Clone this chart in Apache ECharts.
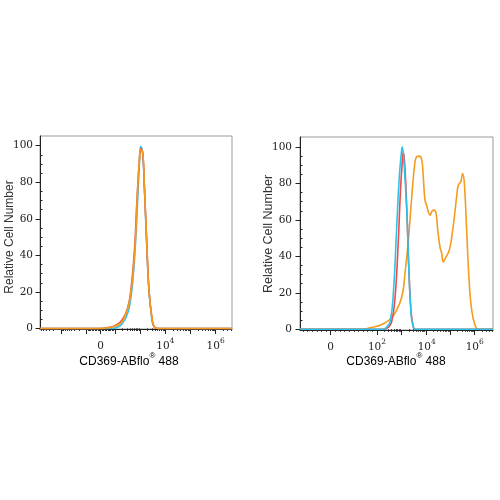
<!DOCTYPE html>
<html>
<head>
<meta charset="utf-8">
<script src="https://cdn.jsdelivr.net/npm/echarts@6/dist/echarts.min.js"></script>
<style>
  html, body { margin: 0; background: #fff; }
  #chart { width: 500px; height: 500px; }
</style>
</head>
<body>
<div id="chart"></div>
<script>
// x values are display channels (0-1024) of the biexponential axis, y = relative cell number
var leftCyan = [[0,0],[384,0],[416,0.8],[437,2.5],[459,6],[477,12],[493,24],[509,46],[522,73],[531,92],[537,99.5],[547,96],[556,79],[568,48],[581,21],[595,6.5],[608,1],[629,0],[1024,0]];
var leftRed = [[0,0],[320,0],[363,0.5],[405,1.8],[437,4.5],[467,11],[487,23],[505,45],[518,72],[530,92],[538,98.5],[548,96],[556,79.5],[569,48],[581,21],[596,6.5],[608,1],[629,0],[1024,0]];
var leftOrange = [[0,0],[320,0],[373,0.5],[418,2],[444,4.6],[471,12],[489,23],[507,45],[519,72],[530,92],[537,98],[548,96],[556,79.5],[569,48],[581,21],[596,6.5],[608,1],[629,0],[1024,0]];

var rightCyan = [[0,0],[434,0],[456,0.8],[478,4],[496,21],[513,56],[527,84],[540,99],[543,100],[552,91],[567,64],[578,31],[586,14],[593,5],[605,0.5],[616,0],[1024,0]];
var rightRed = [[0,0],[446,0],[467,1],[486,4],[504,17],[520,45],[533,76],[544,94],[548,97.4],[557,88],[568,62],[578,32],[589,10],[600,2],[610,0],[1024,0]];
var rightOrange = [[0,0],[340,0],[371,0.8],[407,1.6],[442,3],[478,5.5],[504,8.8],[540,17.7],[557,30.6],[575,49],[593,72.7],[607,89],[619,94.7],[633,95],[646,93],[654,83.7],[663,71],[672,68],[681,64.5],[690,62.6],[699,64.5],[707,65.4],[720,64.5],[731,54.4],[743,45],[752,41.6],[760,37],[775,39.7],[792,43.4],[805,50.7],[817,59.9],[831,72.7],[840,79],[853,81],[863,85.5],[872,80],[885,52.6],[897,27],[911,10.4],[929,2.2],[946,0],[1024,0]];

// tick labels and where they sit on each panel's display axis
var leftTickLabels = ['0', '10^4', '10^6'];
var leftTickPos = [323.7, 668.3, 937];
var rightTickLabels = ['0', '10^2', '10^4', '10^6'];
var rightTickPos = [162.9, 408.4, 672.3, 927];
var yTicks = [0, 20, 40, 60, 80, 100];
var yMinor = [5, 10, 15, 25, 30, 35, 45, 50, 55, 65, 70, 75, 85, 90, 95];

var COL_CYAN = '#2cc3ea';
var COL_RED = '#ef4a47';
var COL_ORANGE = '#f39c1f';
var NUM_FONT = 'DejaVu Serif';
var TXT_FONT = 'Liberation Sans';

// decade ticks of a biex axis: linear part near 0, log decades above 10^2, mirrored below 0
function axisTicks(zero, p100, dec) {
  var major = [zero], minor = [];
  var step = (p100 - zero) / 10;
  for (var k = 1; k < 10; k++) {
    minor.push(zero + k * step, zero - k * step);
  }
  for (var e = 2; e < 8; e++) {
    for (var m = 1; m < 10; m++) {
      var p = p100 + (e - 2) * dec + Math.log10(m) * dec;
      var q = 2 * zero - p;
      if (m === 1) { major.push(p, q); } else { minor.push(p, q); }
    }
  }
  var inside = function (v) { return v > 0.5 && v < 1023.5; };
  return { major: major.filter(inside), minor: minor.filter(inside) };
}

var leftT = axisTicks(leftTickPos[0], leftTickPos[1] - (leftTickPos[2] - leftTickPos[1]), (leftTickPos[2] - leftTickPos[1]) / 2);
var rightT = axisTicks(rightTickPos[0], rightTickPos[1], (rightTickPos[3] - rightTickPos[1]) / 4);

function fmtFor(pos, labels) {
  return function (v) {
    for (var i = 0; i < pos.length; i++) {
      if (Math.abs(pos[i] - v) < 0.5) {
        var parts = labels[i].split('^');
        return parts.length > 1 ? '{b|' + parts[0] + '}{s|' + parts[1] + '}' : '{b|' + parts[0] + '}';
      }
    }
    return '';
  };
}

var richNum = {
  b: { fontFamily: NUM_FONT, fontSize: 10.5, color: '#222', verticalAlign: 'bottom', lineHeight: 14 },
  s: { fontFamily: NUM_FONT, fontSize: 7.5, color: '#222', verticalAlign: 'top', lineHeight: 14 }
};

function xMajor(grid, pos, labels, ticks) {
  return {
    type: 'value', gridIndex: grid, min: 0, max: 1024, position: 'bottom',
    axisLine: { show: true, onZero: false, lineStyle: { color: '#222', width: 1 } },
    axisTick: { show: true, inside: false, length: 5, customValues: ticks, lineStyle: { color: '#222' } },
    axisLabel: { show: true, margin: 8.5, customValues: pos, formatter: fmtFor(pos, labels), rich: richNum },
    splitLine: { show: false }
  };
}
function xMinor(grid, ticks) {
  return {
    type: 'value', gridIndex: grid, min: 0, max: 1024, position: 'bottom',
    axisLine: { show: false },
    axisTick: { show: true, length: 2.5, customValues: ticks, lineStyle: { color: '#222' } },
    axisLabel: { show: false },
    splitLine: { show: false }
  };
}
function yMajor(grid, lo, hi, margin) {
  return {
    type: 'value', gridIndex: grid, min: lo, max: hi,
    axisLine: { show: true, onZero: false, lineStyle: { color: '#222', width: 1 } },
    axisTick: { show: true, length: 4.5, customValues: yTicks, lineStyle: { color: '#222' } },
    axisLabel: { show: true, margin: margin, customValues: yTicks, fontFamily: NUM_FONT, fontSize: 10.5, color: '#222' },
    splitLine: { show: false }
  };
}
function yMinorAxis(grid, lo, hi) {
  return {
    type: 'value', gridIndex: grid, min: lo, max: hi,
    axisLine: { show: false },
    axisTick: { show: true, length: 2.5, customValues: yMinor, lineStyle: { color: '#222' } },
    axisLabel: { show: false },
    splitLine: { show: false }
  };
}

function line(data, color, xi, yi, z) {
  return {
    type: 'line', data: data, xAxisIndex: xi, yAxisIndex: yi, z: z,
    smooth: 0.45, symbol: 'none', silent: true,
    lineStyle: { color: color, width: 1.6 }
  };
}

var richTitle = {
  a: { fontFamily: TXT_FONT, fontSize: 12, color: '#333', verticalAlign: 'bottom', lineHeight: 16 },
  r: { fontFamily: TXT_FONT, fontSize: 8, color: '#333', verticalAlign: 'top', lineHeight: 16 }
};
var xTitle = '{a|CD369-ABflo}{r|®}{a| 488}';
var yTitle = 'Relative Cell Number';

var chart = echarts.init(document.getElementById('chart'), null, { renderer: 'canvas' });
chart.setOption({
  backgroundColor: '#fff',
  animation: false,
  grid: [
    { left: 40, top: 136, width: 192, height: 193, show: true, borderColor: '#999', borderWidth: 1, backgroundColor: 'transparent' },
    { left: 300, top: 137, width: 193, height: 193, show: true, borderColor: '#999', borderWidth: 1, backgroundColor: 'transparent' }
  ],
  xAxis: [
    xMajor(0, leftTickPos, leftTickLabels, leftT.major),
    xMinor(0, leftT.minor),
    xMajor(1, rightTickPos, rightTickLabels, rightT.major),
    xMinor(1, rightT.minor)
  ],
  yAxis: [
    yMajor(0, -0.3, 105.3, 7),
    yMinorAxis(0, -0.3, 105.3),
    yMajor(1, -0.4, 105.5, 8),
    yMinorAxis(1, -0.4, 105.5)
  ],
  series: [
    line(leftCyan, COL_CYAN, 0, 0, 3),
    line(leftRed, COL_RED, 0, 0, 4),
    line(leftOrange, COL_ORANGE, 0, 0, 5),
    line(rightOrange, COL_ORANGE, 2, 2, 3),
    line(rightRed, COL_RED, 2, 2, 4),
    line(rightCyan, COL_CYAN, 2, 2, 5)
  ],
  graphic: [
    { type: 'text', x: 129, y: 360, style: { text: xTitle, rich: richTitle, align: 'center', verticalAlign: 'middle' } },
    { type: 'text', x: 396, y: 360, style: { text: xTitle, rich: richTitle, align: 'center', verticalAlign: 'middle' } },
    { type: 'text', x: 10, y: 237, rotation: Math.PI / 2, style: { text: yTitle, fontFamily: TXT_FONT, fontSize: 12, fill: '#333', align: 'center', verticalAlign: 'middle' } },
    { type: 'text', x: 268.5, y: 234, rotation: Math.PI / 2, style: { text: yTitle, fontFamily: TXT_FONT, fontSize: 12.5, fill: '#333', align: 'center', verticalAlign: 'middle' } }
  ]
});
</script>
</body>
</html>
